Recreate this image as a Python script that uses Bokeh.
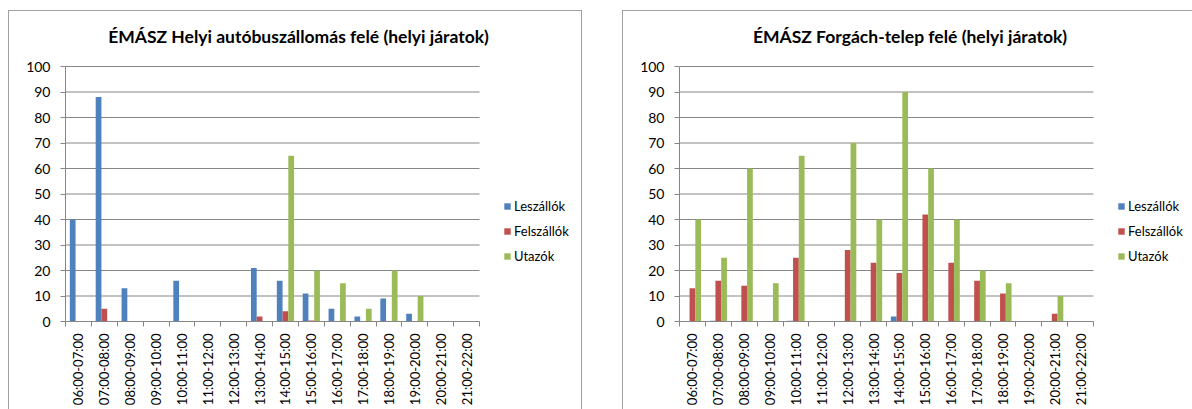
import math
from bokeh.plotting import figure
from bokeh.models import FixedTicker, Legend, LegendItem, Label, Range1d, Spacer
from bokeh.layouts import row, column
from bokeh.embed import file_html
from bokeh.resources import INLINE

categories = ["06:00-07:00", "07:00-08:00", "08:00-09:00", "09:00-10:00",
              "10:00-11:00", "11:00-12:00", "12:00-13:00", "13:00-14:00",
              "14:00-15:00", "15:00-16:00", "16:00-17:00", "17:00-18:00",
              "18:00-19:00", "19:00-20:00", "20:00-21:00", "21:00-22:00"]
series_names = ["Leszállók", "Felszállók", "Utazók"]

left_title = "ÉMÁSZ Helyi autóbuszállomás felé (helyi járatok)"
left_leszallok = [40, 88, 13, 0, 16, 0, 0, 21, 16, 11, 5, 2, 9, 3, 0, 0]
left_felszallok = [0, 5, 0, 0, 0, 0, 0, 2, 4, 0.4, 0, 0, 0, 0, 0, 0]
left_utazok = [0, 0, 0, 0, 0, 0, 0, 0, 65, 20, 15, 5, 20, 10, 0, 0]

right_title = "ÉMÁSZ Forgách-telep felé (helyi járatok)"
right_leszallok = [0, 0.3, 0, 0, 0.3, 0, 0, 0, 2, 0, 0, 0, 0, 0, 0, 0]
right_felszallok = [13, 16, 14, 0, 25, 0, 28, 23, 19, 42, 23, 16, 11, 0, 3, 0]
right_utazok = [40, 25, 60, 15, 65, 0, 70, 40, 90, 60, 40, 20, 15, 0, 10, 0]

y_ticks = list(range(0, 101, 10))
y_max = 100
colors = ["#4F81BD", "#C0504D", "#9BBB59"]
FONT = "Lato"
GRID = "#868686"

# pixel geometry (layout only)
FIG_H = 398
BORDER_L = 56
BORDER_B = 88
PLOT_W = 414      # width of the 16 category slots
PLOT_H = 255      # height from 0 to 100
TITLE_Y = 285     # title baseline above frame bottom
LEGEND_LOC = (438, 57)


def make_chart(title, series, width, title_x):
    n = len(categories)
    frame_w = width - BORDER_L
    frame_h = FIG_H - BORDER_B
    x_end = n * frame_w / PLOT_W
    y_end = y_max * frame_h / PLOT_H
    p = figure(width=width, height=FIG_H, x_range=Range1d(0, x_end), y_range=Range1d(0, y_end),
               output_backend="svg", toolbar_location=None,
               min_border_left=BORDER_L, min_border_right=0,
               min_border_top=0, min_border_bottom=BORDER_B)
    p.outline_line_color = None
    p.xgrid.grid_line_color = None
    p.ygrid.grid_line_color = None

    # horizontal gridlines limited to the category area
    p.segment(x0=[0] * len(y_ticks), x1=[n] * len(y_ticks), y0=y_ticks, y1=y_ticks,
              line_color=GRID, line_width=1.2)

    bw = 0.222
    items = []
    for k, (name, vals, col) in enumerate(zip(series_names, series, colors)):
        xs = [i + 0.5 + (k - 1) * bw for i in range(n)]
        r = p.vbar(x=xs, top=vals, width=bw, fill_color=col, line_color=None)
        items.append(LegendItem(label=name, renderers=[r]))

    xa = p.xaxis[0]
    xa.bounds = (0, n)
    xa.ticker = FixedTicker(ticks=[i + 0.5 for i in range(n)], minor_ticks=list(range(n + 1)))
    xa.major_label_overrides = {i + 0.5: c for i, c in enumerate(categories)}
    xa.major_label_orientation = math.pi / 2
    xa.major_tick_out = 0
    xa.major_tick_in = 0
    xa.minor_tick_out = 5
    xa.minor_tick_in = 0
    xa.minor_tick_line_color = GRID
    xa.axis_line_color = GRID
    xa.major_label_standoff = 7
    xa.major_label_text_font = FONT
    xa.major_label_text_font_size = "13px"
    xa.major_label_text_color = "black"

    ya = p.yaxis[0]
    ya.bounds = (0, y_max)
    ya.ticker = FixedTicker(ticks=y_ticks)
    ya.major_tick_out = 5
    ya.major_tick_in = 0
    ya.minor_tick_out = 0
    ya.major_tick_line_color = GRID
    ya.axis_line_color = GRID
    ya.major_label_standoff = 10
    ya.major_label_text_font = FONT
    ya.major_label_text_font_size = "14px"
    ya.major_label_text_color = "black"

    legend = Legend(items=items, location=LEGEND_LOC, orientation="vertical",
                    border_line_color=None, background_fill_alpha=0,
                    padding=0, margin=0, spacing=9, label_height=16,
                    glyph_width=8, glyph_height=8, label_standoff=3,
                    label_text_font=FONT, label_text_font_size="13px",
                    label_text_color="black")
    p.add_layout(legend)

    lbl = Label(x=title_x, y=TITLE_Y, x_units="screen", y_units="screen", text=title,
                text_align="center", text_baseline="alphabetic",
                text_font=FONT, text_font_style="bold", text_font_size="17.5px",
                text_color="black")
    p.add_layout(lbl)
    return p


BC = "1px solid #A0A0A0"
p1 = make_chart(left_title, [left_leszallok, left_felszallok, left_utazok], 572, 233)
p2 = make_chart(right_title, [right_leszallok, right_felszallok, right_utazok], 569, 230.5)

w1 = column(p1, styles={"border-top": BC, "border-left": BC, "border-right": BC})
w2 = column(p2, styles={"border-top": BC, "border-left": BC})

layout = column(Spacer(height=10),
                row(Spacer(width=8), w1, Spacer(width=40), w2))
open("out.html", "w").write(file_html(layout, INLINE))
